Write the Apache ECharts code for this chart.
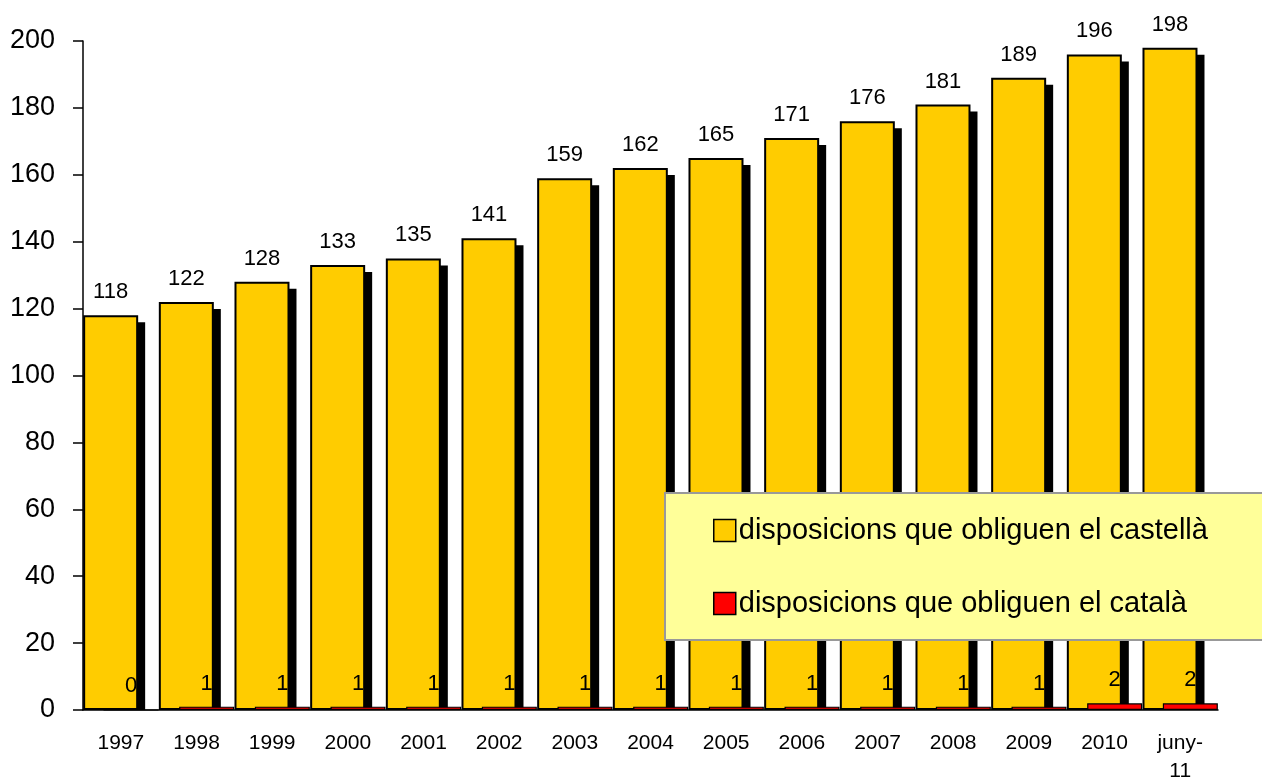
<!DOCTYPE html>
<html>
<head>
<meta charset="utf-8">
<script src="https://cdn.jsdelivr.net/npm/echarts@6/dist/echarts.min.js"></script>
<style>
html,body{margin:0;padding:0;background:#fff;}
#c{width:1262px;height:780px;}
</style>
</head>
<body>
<div id="c"></div>
<script>
const categories = ['1997','1998','1999','2000','2001','2002','2003','2004','2005','2006','2007','2008','2009','2010','juny-\n11'];
const castella = [118,122,128,133,135,141,159,162,165,171,176,181,189,196,198];
const catala = [0,1,1,1,1,1,1,1,1,1,1,1,1,2,2];
const nameCastella = 'disposicions que obliguen el castellà';
const nameCatala = 'disposicions que obliguen el català';
const yTicks = {min: 0, max: 200, interval: 20};

const FONT = '"Liberation Sans", Arial, sans-serif';
const BW = 55;
const GAP = -0.63;
const total = BW * 2 + BW * GAP;
const offYellow = -total / 2 + BW / 2;
const offRed = offYellow + BW + BW * GAP;
const SH = 7;

function shadowRenderer(off) {
  return function (params, api) {
    const idx = api.value(0), val = api.value(1);
    const p = api.coord([idx, val]);
    const p0 = api.coord([idx, 0]);
    const x = p[0] + off - BW / 2 + SH;
    const y = p[1] + SH;
    const h = p0[1] - y;
    if (h <= 0) return null;
    return {type: 'rect', shape: {x: x, y: y, width: BW, height: h}, style: {fill: '#000'}};
  };
}

const chart = echarts.init(document.getElementById('c'), null, {renderer: 'canvas'});
chart.setOption({
  animation: false,
  backgroundColor: '#fff',
  textStyle: {fontFamily: FONT},
  grid: {left: 83, right: 44, top: 41, bottom: 70, containLabel: false, outerBoundsMode: 'none'},
  legend: {
    data: [nameCastella, nameCatala],
    orient: 'vertical',
    left: 665,
    top: 493,
    itemWidth: 22,
    itemHeight: 22,
    itemGap: 44,
    padding: [23, 90, 22, 48],
    backgroundColor: '#ffff99',
    borderColor: '#999999',
    borderWidth: 2,
    borderRadius: 0,
    icon: 'rect',
    textStyle: {fontFamily: FONT, fontSize: 29, color: '#000', padding: [0, 0, 0, -2]},
    itemStyle: {borderColor: '#000', borderWidth: 1.5}
  },
  xAxis: {
    type: 'category',
    data: categories,
    axisLine: {lineStyle: {color: '#000', width: 1.5}},
    axisTick: {length: 7, lineStyle: {color: '#000', width: 1.5}},
    axisLabel: {color: '#000', fontSize: 21, fontFamily: FONT, margin: 19, lineHeight: 28, interval: 0}
  },
  yAxis: {
    type: 'value',
    min: yTicks.min, max: yTicks.max, interval: yTicks.interval,
    splitLine: {show: false},
    axisLine: {show: true, lineStyle: {color: '#000', width: 1.5}},
    axisTick: {show: true, length: 10, lineStyle: {color: '#000', width: 1.5}},
    axisLabel: {color: '#000', fontSize: 27, fontFamily: FONT, margin: 28}
  },
  series: [
    {
      type: 'custom',
      name: 'shadowYellow',
      z: 1,
      silent: true,
      renderItem: shadowRenderer(offYellow),
      data: castella.map((v, i) => [i, v])
    },
    {
      type: 'bar',
      name: nameCastella,
      data: castella,
      barWidth: BW,
      barGap: (GAP * 100) + '%',
      z: 2,
      itemStyle: {color: '#ffcc00', borderColor: '#000', borderWidth: 2},
      label: {show: true, position: 'top', distance: 12, color: '#000', fontSize: 22, fontFamily: FONT}
    },
    {
      type: 'custom',
      name: 'shadowRed',
      z: 1,
      silent: true,
      renderItem: shadowRenderer(offRed),
      data: catala.map((v, i) => [i, v])
    },
    {
      type: 'bar',
      name: nameCatala,
      data: catala,
      barWidth: BW,
      barGap: (GAP * 100) + '%',
      z: 3,
      itemStyle: {color: '#ff0000', borderColor: '#000', borderWidth: 1.2},
      label: {show: true, position: 'top', distance: 12, color: '#000', fontSize: 22, fontFamily: FONT}
    }
  ]
});
</script>
</body>
</html>
